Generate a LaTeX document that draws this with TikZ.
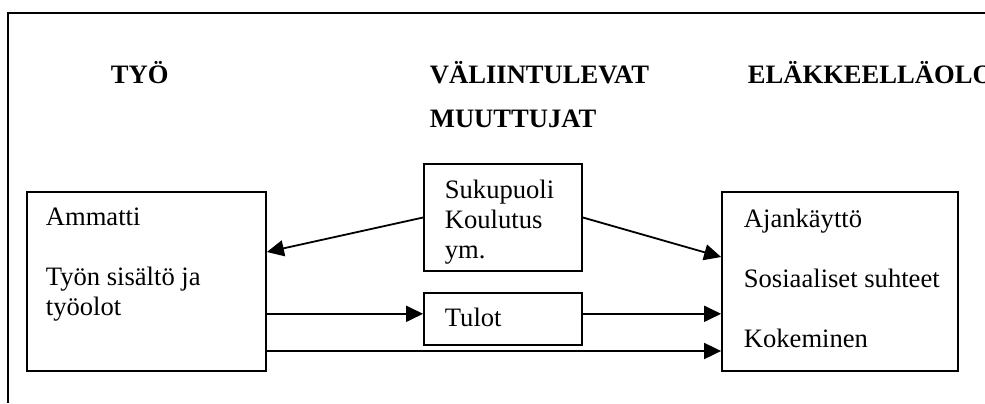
\documentclass[tikz,border=0pt]{standalone}
\usepackage{fontspec}
\setmainfont{Liberation Serif}
\usetikzlibrary{arrows.meta}
\usetikzlibrary{positioning}

\begin{document}
\begin{tikzpicture}
    [x=0.5pt, y=-0.5pt, line width=0.9pt,
      box/.style={draw, rectangle, inner sep=0pt},
      txt/.style={inner sep=0pt, anchor=base west, align=left,
        font=\fontsize{13.3pt}{15pt}\selectfont},
      head/.style={inner sep=0pt, anchor=base west, align=left,
        font=\fontsize{13.3pt}{22pt}\selectfont\bfseries},
      arr/.style={-{Triangle[length=8.5pt, width=8pt]}},
     ]
    \clip (0,0) rectangle (985,403);
    \draw (985,13) -- (8,13) -- (8,403);

    % otsikot (base = viimeisen rivin perusviiva)
    \node[head] (tyo) at (110,83) {TYÖ};
    \node[head] (valiin) at (429,127) {VÄLIINTULEVAT\\MUUTTUJAT};
    \node[head] (elake) at (747,83) {ELÄKKEELLÄOLO};

    % laatikot
    \node[box, minimum width=119.5pt, minimum height=89.5pt] (lbox) at (146.5,281.5) {};
    \node[box, minimum width=79pt, minimum height=53.5pt] (sbox) at (503,217.5) {};
    \node[box, minimum width=79pt, minimum height=26pt, below=10pt of sbox] (tul) {};
    \node[box, minimum width=118pt, minimum height=89.5pt] (rbox) at (840,281.5) {};

    \node[txt] (ammatti) at (45,315) {Ammatti\\[15pt]Työn sisältö ja\\työolot};
    \node[txt] (sukup) at (444,258) {Sukupuoli\\Koulutus\\ym.};
    \node[txt] (tulot) at (444,326) {Tulot};
    \node[txt] (ajank) at (743,347) {Ajankäyttö\\[15pt]Sosiaaliset suhteet\\[15pt]Kokeminen};

    % nuolet
    \coordinate (tin) at ([yshift=2.5pt]tul.west);
    \draw[arr] (sbox.west) -- ([yshift=14.75pt]lbox.east);
    \draw[arr] (sbox.east) -- ([yshift=12.25pt]rbox.west);
    \draw[arr] (lbox.east |- tin) -- (tin);
    \draw[arr] ([yshift=2.5pt]tul.east) -- (rbox.west |- tin);
    \draw[arr] ([yshift=-34.75pt]lbox.east) -- ([yshift=-34.75pt]rbox.west);
\end{tikzpicture}
\end{document}
